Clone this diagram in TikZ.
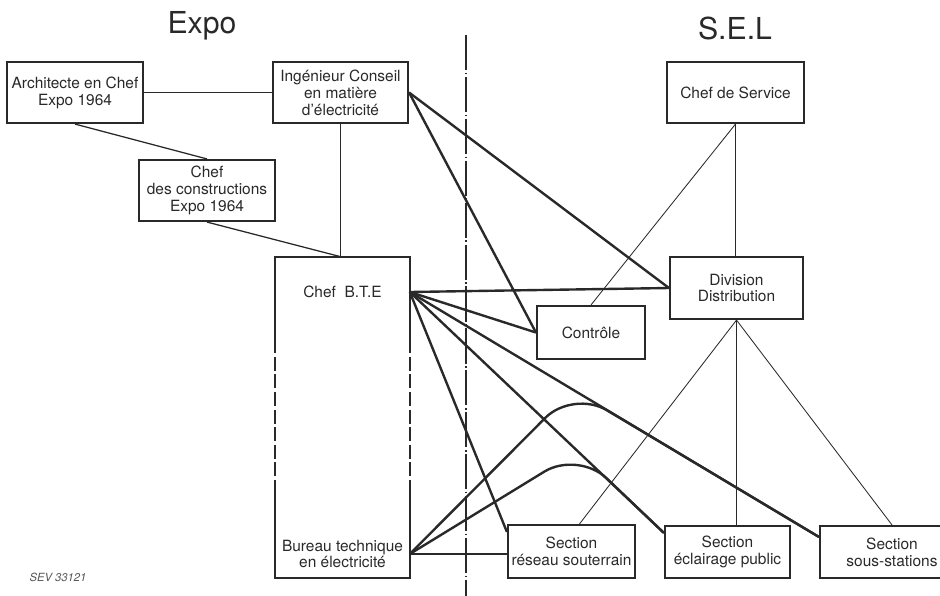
\documentclass[tikz,border=0pt]{standalone}
\usepackage{fontspec}
\setmainfont{TeX Gyre Heros}
\usetikzlibrary{calc}
\definecolor{ink}{rgb}{0.16,0.16,0.16}
\begin{document}
\begin{tikzpicture}[x=0.025cm, y=-0.025cm,
	every node/.style={text=ink, font=\fontsize{11}{12}\selectfont},
	box/.style={draw=ink, line width=1.5pt, inner sep=0pt, align=center},
	boxline/.style={draw=ink, line width=1.5pt},
	title/.style={font=\fontsize{21.5}{24}\selectfont},
	heavy/.style={draw=ink, line width=1.7pt},
	light/.style={draw=ink, line width=0.9pt},
	hair/.style={draw=ink, line width=0.6pt}]
	\useasboundingbox (0,0) rectangle (940,595);
	\node[title] (expo) at (202,26) {Expo};
	\node[title] (sel) at (735,28) {S.E.L};
	\node[box, minimum width=3.4cm, minimum height=1.525cm] (arch) at (75,92.5) {Architecte en Chef\\Expo 1964};
	\node[box, minimum width=3.375cm, minimum height=1.525cm] (ing) at (340.5,92.5) {Ingénieur Conseil\\en matière\\d'électricité};
	\node[box, minimum width=3.4cm, minimum height=1.525cm] (constr) at (207,190.5) {Chef\\des constructions\\Expo 1964};
	\node[box, minimum width=3.425cm, minimum height=1.525cm] (service) at (735.5,92.5) {Chef de Service};
	\node[minimum width=3.35cm, minimum height=8cm, inner sep=0pt] (bte) at (342.5,417.5) {};
	\node (btechef) at (342.5,292) {Chef\ \ B.T.E};
	\node[align=center] (btebureau) at (342.5,554) {Bureau technique\\en électricité};
	\node[box, minimum width=3.325cm, minimum height=1.55cm] (div) at (736.5,288) {Division\\Distribution};
	\node[box, minimum width=2.7cm, minimum height=1.325cm] (ctrl) at (591,332.5) {Contrôle};
	\node[box, minimum width=3.175cm, minimum height=1.325cm] (reseau) at (571.5,551.5) {Section\\réseau souterrain};
	\node[box, minimum width=3.125cm, minimum height=1.3cm] (eclair) at (727.5,552) {Section\\éclairage public};
	\node[box, minimum width=3.6cm, minimum height=1.3cm] (sous) at (892,552) {Section\\sous-stations};
	\node[font=\fontsize{8}{9}\selectfont\itshape, text=ink!80] (sev) at (58,577) {SEV 33121};
	\coordinate (chefpt) at (bte.east |- btechef);
	\coordinate (bureaupt) at (bte.east |- btebureau);
	\coordinate (bendsous) at (573,390);
	\coordinate (bendeclair) at (578,451);
	\draw[boxline] ($(bte.north west)+(0,82)$) |- (bte.north east) -- ++(0,82);
	\draw[boxline, dash pattern=on 10pt off 2.5pt] ($(bte.north west)+(0,82)$) -- ($(bte.south west)+(0,-84)$);
	\draw[boxline, dash pattern=on 10pt off 2.5pt] ($(bte.north east)+(0,82)$) -- ($(bte.south east)+(0,-84)$);
	\draw[boxline] ($(bte.south west)+(0,-84)$) |- (bte.south east) -- ++(0,-84);
	\draw[draw=ink, line width=0.8pt, dash pattern=on 25pt off 1.8pt on 1.2pt off 1.8pt] (466,35) -- (466,600);
	\draw[light] (arch) -- (ing);
	\draw[light] (arch.south) -- (constr.north);
	\draw[light] (constr.south) -- (bte.north);
	\draw[light] (ing.south) -- (ing.south |- bte.north);
	\draw[light] (service.south) -- (service.south |- div.north);
	\draw[hair] (service.south) -- (ctrl.north);
	\draw[hair] (div.south) -- ([xshift=0.2cm]reseau.north);
	\draw[light] (div.south) -- (div.south |- eclair.north);
	\draw[hair] (div.south) -- (sous.north);
	\draw[heavy] (ing.east) -- (div.west);
	\draw[heavy] (ing.east) -- (ctrl.west);
	\draw[heavy] (chefpt) -- (div.west);
	\draw[heavy] (chefpt) -- (ctrl.west);
	\draw[heavy] (chefpt) -- ([yshift=-0.2cm]reseau.north west);
	\draw[heavy] (chefpt) -- ([yshift=-0.2cm]eclair.north west);
	\draw[heavy] (chefpt) -- ([yshift=-0.3cm]sous.north west);
	\draw[heavy] (bureaupt) -- (reseau.west |- bureaupt);
	\draw[heavy, rounded corners=28pt] (bureaupt) -- (bendsous) -- ([yshift=-0.3cm]sous.north west);
	\draw[heavy, rounded corners=28pt] (bureaupt) -- (bendeclair) -- ([yshift=-0.2cm]eclair.north west);
\end{tikzpicture}
\end{document}
